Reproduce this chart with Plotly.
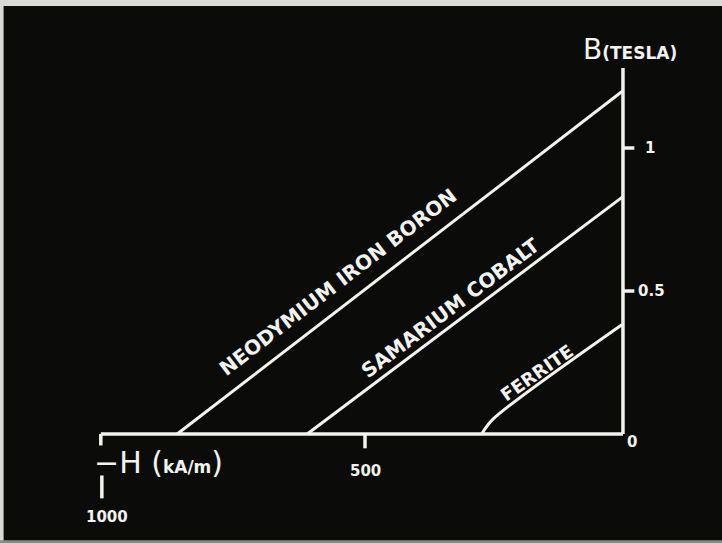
import plotly.graph_objects as go

# Demagnetisation (second-quadrant) curves of three permanent-magnet families
materials = ["NEODYMIUM IRON BORON", "SAMARIUM COBALT", "FERRITE"]
coercivity_kA_m = [864, 612, 273]      # -H where B falls to zero
remanence_T = [1.20, 0.83, 0.385]      # B at H = 0
# ferrite curve bends near the knee before going straight
ferrite_knee_H = [274, 252]
ferrite_knee_B = [0.0, 0.052]

h_ticks = [1000, 500, 0]
h_tick_labels = ["1000", "500", "0"]
b_ticks = [1.0, 0.5]
b_tick_labels = ["1", "0.5"]

INK = "#f2f2ee"
BG = "#0b0c0a"
HAND = "DejaVu Sans"

fig = go.Figure()

for name, hc, br in zip(materials, coercivity_kA_m, remanence_T):
    if name == "FERRITE":
        xs = ferrite_knee_H + [0]
        ys = ferrite_knee_B + [br]
        shape = "spline"
    else:
        xs = [hc, 0]
        ys = [0, br]
        shape = "linear"
    fig.add_trace(go.Scatter(
        x=xs, y=ys, mode="lines", name=name,
        line=dict(color=INK, width=3, shape=shape, smoothing=0.8),
        hoverinfo="skip", showlegend=False,
    ))

# hand-drawn axes
axis_line = dict(color=INK, width=3.5)
fig.add_shape(type="line", x0=1012, x1=0, y0=0, y1=0, xref="x", yref="y", line=axis_line)
fig.add_shape(type="line", x0=0, x1=0, y0=0, y1=1.28, xref="x", yref="y", line=axis_line)
# corner stub at the far end of the H axis
fig.add_shape(type="line", x0=1012, x1=1012, y0=0, y1=-0.04, xref="x", yref="y", line=axis_line)
# tick at H = 500
fig.add_shape(type="line", x0=500, x1=500, y0=0, y1=-0.05, xref="x", yref="y", line=axis_line)
# bar above the 1000 label
fig.add_shape(type="line", x0=1010, x1=1010, y0=-0.145, y1=-0.225, xref="x", yref="y", line=axis_line)
# ticks on the B axis
for b in b_ticks:
    fig.add_shape(type="line", x0=0, x1=-22, y0=b, y1=b, xref="x", yref="y", line=axis_line)

# curve labels, written along each line
label_pos = {
    "NEODYMIUM IRON BORON": (552, 0.53, 20, -37.5),
    "SAMARIUM COBALT": (335, 0.44, 20, -37),
    "FERRITE": (166, 0.215, 18, -35),
}
for name in materials:
    hx, by, size, ang = label_pos[name]
    fig.add_annotation(x=hx, y=by, xref="x", yref="y", text=f"<b>{name}</b>",
                       textangle=ang, showarrow=False,
                       font=dict(family=HAND, size=size, color=INK))

# tick labels
h_label_pos = {"1000": (1000, -0.29, 15), "500": (500, -0.13, 15), "0": (-18, -0.028, 15)}
for lab in h_tick_labels:
    hx, by, size = h_label_pos[lab]
    fig.add_annotation(x=hx, y=by, xref="x", yref="y", text=f"<b>{lab}</b>",
                       showarrow=False, font=dict(family=HAND, size=size, color=INK))
b_label_pos = {"1": -52, "0.5": -55}
for b, lab in zip(b_ticks, b_tick_labels):
    fig.add_annotation(x=b_label_pos[lab], y=b, xref="x", yref="y", text=f"<b>{lab}</b>",
                       showarrow=False, font=dict(family=HAND, size=15, color=INK))

# axis titles
fig.add_annotation(x=-14, y=1.345, xref="x", yref="y",
                   text="B<b><span style='font-size:17px'>(TESLA)</span></b>",
                   showarrow=False, font=dict(family=HAND, size=28, color=INK))
fig.add_annotation(x=1030, y=-0.1, xref="x", yref="y", xanchor="left",
                   text="−H (<span style='font-size:17px'><b>kA/m</b></span>)",
                   showarrow=False, font=dict(family=HAND, size=30, color=INK))

# light paper edges around the board
edge = "#d9d9d6"
fig.add_shape(type="rect", xref="paper", yref="paper", x0=0, x1=1, y0=0.989, y1=1,
              fillcolor=edge, line=dict(width=0), layer="above")
fig.add_shape(type="rect", xref="paper", yref="paper", x0=0, x1=0.005, y0=0, y1=1,
              fillcolor=edge, line=dict(width=0), layer="above")
fig.add_shape(type="rect", xref="paper", yref="paper", x0=0, x1=1, y0=0, y1=0.005,
              fillcolor="#8a8a86", line=dict(width=0), layer="above")

fig.update_layout(
    width=722, height=543,
    margin=dict(l=0, r=0, t=0, b=0),
    paper_bgcolor=BG, plot_bgcolor=BG,
    xaxis=dict(range=[1207.4, -191.9], visible=False, fixedrange=True),
    yaxis=dict(range=[-0.3811, 1.5175], visible=False, fixedrange=True),
    showlegend=False,
)

fig.write_html("out.html")
